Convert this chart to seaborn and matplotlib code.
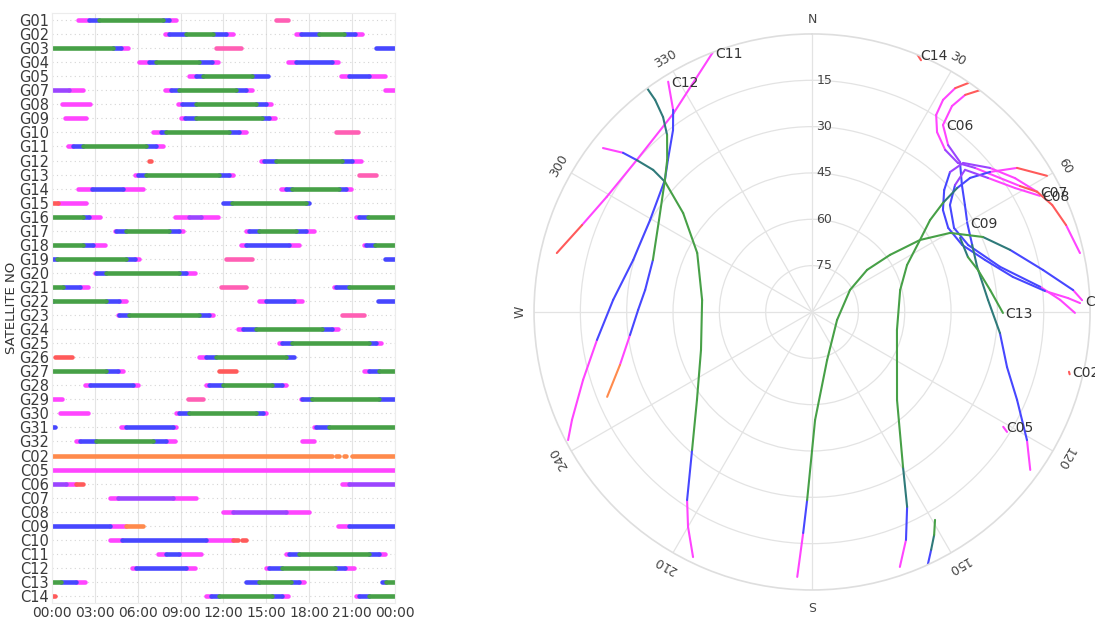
import numpy as np
import pandas as pd
import matplotlib
matplotlib.use("Agg")
import matplotlib.pyplot as plt
import seaborn as sns

# Signal-band colours used by both panels
BAND_COLORS = {
    "r": "#ff5a5a",   # very weak
    "k": "#ff5fb4",   # weak (pink)
    "o": "#ff8a4c",   # weak (orange)
    "m": "#ff45ff",   # low
    "p": "#9b45ff",   # low/medium
    "b": "#4747ff",   # medium
    "d": "#2f7a7a",   # medium/high
    "g": "#47a047",   # high
}

# ---------------- visibility windows: (hour breakpoints, band of each piece)
gps_windows = {
    "G01": [([1.8, 2.6, 3.3, 7.8, 8.2, 8.7], "mbgbm"), ([15.7, 16.5], "k")],
    "G02": [([7.9, 8.2, 9.4, 11.3, 12.2, 12.7], "mbgbm"), ([17.1, 17.4, 18.7, 20.4, 21.2, 21.7], "mbgbm")],
    "G03": [([0.0, 4.3, 4.8, 5.3], "gbm"), ([11.5, 13.2], "k"), ([22.65, 24.0], "b")],
    "G04": [([6.1, 6.8, 7.3, 10.3, 11.2, 11.6], "mbgbm"), ([16.5, 17.1, 19.6, 20.0], "mbm")],
    "G05": [([9.6, 10.1, 10.6, 14.0, 15.1], "mbgb"), ([20.2, 20.8, 22.2, 23.3], "mbm")],
    "G07": [([0.0, 1.2, 2.2], "pm"), ([7.9, 8.3, 8.9, 12.9, 13.6, 14.0], "mbgbm"), ([23.3, 24.0], "m")],
    "G08": [([0.7, 2.65], "m"), ([8.8, 9.1, 10.1, 14.3, 15.0, 15.3], "mbgbm")],
    "G09": [([0.9, 2.4], "m"), ([9.05, 9.3, 10.1, 14.7, 15.2, 15.6], "mbgbm")],
    "G10": [([7.1, 7.6, 8.0, 12.4, 13.1, 13.6], "mbgbm"), ([19.9, 21.4], "k")],
    "G11": [([1.1, 1.5, 2.2, 6.6, 7.3, 7.8], "mbgbm")],
    "G12": [([6.8, 6.95], "r"), ([14.6, 14.8, 15.7, 20.3, 21.0, 21.6], "mbgbm")],
    "G13": [([5.8, 6.0, 6.6, 11.7, 12.4, 12.65], "mbgbm"), ([21.5, 22.65], "k")],
    "G14": [([1.8, 2.8, 5.0, 6.4], "mbm"), ([16.0, 16.4, 16.8, 20.1, 20.6, 20.9], "mbgbm")],
    "G15": [([0.1, 0.4, 2.4], "rm"), ([11.95, 12.6, 17.8, 18.0], "bgb")],
    "G16": [([0.0, 2.2, 2.6, 3.35], "gbm"), ([8.6, 9.6, 10.4, 11.6], "mpm"), ([21.3, 21.5, 22.1, 24.0], "mbg")],
    "G17": [([4.4, 4.5, 5.2, 8.2, 8.9, 9.2], "mbgbm"), ([13.6, 13.8, 14.5, 17.1, 17.8, 18.3], "mbgbm")],
    "G18": [([0.0, 2.2, 2.9, 3.7], "gbm"), ([13.2, 13.6, 16.6, 17.3], "mbm"), ([21.8, 22.0, 22.6, 24.0], "mbg")],
    "G19": [([0.0, 0.35, 5.2, 5.8, 6.1], "bgbm"), ([12.2, 14.0], "k"), ([23.3, 24.0], "b")],
    "G20": [([3.0, 3.1, 3.8, 8.9, 9.4, 10.0], "mbgbm")],
    "G21": [([0.0, 0.8, 1.95, 2.5], "gbm"), ([11.8, 13.6], "k"), ([19.7, 19.9, 20.8, 24.0], "mbg")],
    "G22": [([0.0, 0.1, 3.8, 4.7, 5.2], "bgbm"), ([14.5, 15.0, 16.9, 17.5], "mbm"), ([22.8, 24.0], "b")],
    "G23": [([4.6, 4.7, 5.4, 10.3, 11.0, 11.3], "mbgbm"), ([20.3, 21.8], "k")],
    "G24": [([13.0, 13.4, 14.3, 18.9, 19.6, 20.0], "mbgbm")],
    "G25": [([15.9, 16.1, 16.8, 22.2, 22.65, 23.0], "mbgbm")],
    "G26": [([0.2, 1.4], "r"), ([10.3, 10.8, 11.5, 16.4, 16.9], "mbgb")],
    "G27": [([0.0, 3.8, 4.6, 5.0], "gbm"), ([11.7, 12.9], "r"), ([21.8, 22.2, 22.9, 24.0], "mbg")],
    "G28": [([2.3, 2.65, 5.7, 6.0], "mbm"), ([10.8, 11.0, 11.95, 15.4, 16.1, 16.4], "mbgbm")],
    "G29": [([0.0, 0.7], "m"), ([9.5, 10.6], "k"), ([17.4, 17.5, 18.2, 22.9, 24.0], "mbgb")],
    "G30": [([0.56, 2.5], "m"), ([8.7, 8.9, 9.6, 14.3, 14.75, 15.0], "mbgbm")],
    "G31": [([0.0, 0.2], "b"), ([4.86, 5.2, 8.45, 8.7], "mbm"), ([18.35, 18.5, 19.4, 24.0], "mbg")],
    "G32": [([1.7, 1.95, 3.1, 7.1, 8.0, 8.6], "mbgbm"), ([17.5, 18.35], "m")],
}

bds_windows = {
    "C02": [([0.0, 19.6], "o"), ([19.9, 20.1], "o"), ([20.4, 20.6], "o"), ([21.0, 24.0], "o")],
    "C05": [([0.0, 24.0], "m")],
    "C06": [([0.0, 1.0, 1.7, 2.2], "pmr"), ([20.3, 20.8, 24.0], "mp")],
    "C07": [([4.05, 4.6, 8.5, 10.1], "mpm")],
    "C08": [([11.95, 12.7, 16.4, 18.0], "mpm")],
    "C09": [([0.0, 4.05, 5.2, 6.4], "bmo"), ([20.0, 20.8, 24.0], "mb")],
    "C10": [([4.05, 4.9, 10.8, 12.65, 13.0], "mbmr"), ([13.3, 13.6], "r")],
    "C11": [([7.4, 8.0, 8.9, 10.4], "mbm"), ([16.4, 16.6, 17.3, 22.2, 22.9, 23.3], "mbgbm")],
    "C12": [([5.6, 5.9, 9.4, 10.0], "mbm"), ([15.0, 15.2, 16.1, 19.8, 20.5, 21.1], "mbgbm")],
    "C13": [([0.0, 0.6, 1.7, 2.3], "gbm"), ([13.6, 14.5, 16.7, 17.3, 17.65], "bgbm"), ([23.1, 23.4, 24.0], "bg")],
    "C14": [([0.0, 0.2], "r"), ([10.8, 11.1, 11.7, 15.4, 16.1, 16.5], "mbgbm"), ([21.3, 21.5, 22.2, 24.0], "mbg")],
}

hour_ticks = [0, 3, 6, 9, 12, 15, 18, 21, 24]
hour_labels = ["00:00", "03:00", "06:00", "09:00", "12:00", "15:00", "18:00", "21:00", "00:00"]

# ---------------- sky tracks: azimuth (deg), elevation (deg), band of each piece
c11_az = [339.1, 325.1, 310.9, 299.3, 290.7, 283.0]
c11_el = [0.0, 11.6, 14.9, 13.8, 10.4, 5.2]
c11_band = "mmmmr"

c12_az = [328.0, 325.5, 322.6, 316.5, 311.9, 299.6, 286.2, 273.5, 262.6, 253.5, 245.8, 242.3]
c12_el = [2.1, 10.6, 15.9, 22.2, 26.0, 29.7, 29.7, 25.5, 19.8, 12.7, 4.8, 0.8]
c12_band = "mbbbbbbbmmm"

west1_az = [323.6, 323.5, 322.6, 320.7, 316.4, 311.9, 301.0, 288.1, 277.5, 270.7, 262.8, 254.6, 247.5]
west1_el = [0.0, 4.6, 10.6, 15.9, 22.0, 26.0, 32.2, 35.8, 35.5, 33.7, 30.6, 25.5, 18.2]
west1_band = "dddggggbbbmo"

west2_az = [308.1, 310.1, 310.9, 311.8, 311.5, 307.5, 297.2, 276.2, 251.1, 232.6, 221.0, 213.6, 210.0, 205.9]
west2_el = [4.0, 10.0, 14.9, 21.0, 26.5, 37.4, 48.2, 54.2, 52.0, 43.1, 30.8, 16.9, 9.7, 1.8]
west2_band = "mbddggggggbmm"

c10_az = [87.5, 85.2, 79.7, 72.6, 66.3, 60.2, 56.3, 53.8, 52.6, 59.9, 107.7, 162.6, 178.4, 181.5, 182.3, 183.2]
c10_el = [2.5, 5.2, 14.0, 22.8, 29.6, 38.5, 48.0, 58.7, 67.6, 75.8, 81.5, 73.7, 55.0, 29.1, 18.4, 4.1]
c10_band = "mbbdgggggggggbm"

east1_az = [59.9, 54.9, 51.8, 49.7, 49.5, 50.2, 52.1, 56.3, 63.7, 76.0, 102.0, 136.0, 149.6, 154.0, 157.6, 161.0]
east1_el = [2.1, 8.9, 16.7, 22.9, 28.2, 34.8, 41.6, 48.0, 55.7, 60.6, 61.9, 50.4, 31.8, 19.8, 10.2, 2.7]
east1_band = "rmbbdgggggggdbm"

south_az = [149.4, 151.3, 153.4, 155.4]
south_el = [11.8, 7.7, 3.9, 0.0]
south_band = "gdb"

c13_az = [90.3, 83.0, 75.8, 70.6, 63.4]
c13_el = [28.2, 31.9, 34.6, 36.5, 36.4]
c13_band = "gggd"

c09_az = [59.9, 67.3, 74.7, 86.1, 96.4, 105.8, 113.2, 120.8, 125.9]
c09_el = [32.0, 33.8, 34.6, 32.9, 28.8, 24.4, 17.8, 9.0, 2.8]
c09_band = "bdddbbbm"

north_az = [34.3, 32.6, 31.7, 32.2, 34.8, 39.4, 44.4, 48.5, 54.5, 58.8, 61.9, 65.97, 71.1, 77.6]
north_el = [0.3, 4.0, 9.3, 14.6, 19.1, 22.1, 22.5, 19.6, 15.3, 11.3, 7.4, 4.9, 3.1, 1.2]
north_band = "rmmmmppmmrrrm"

c06_az = [35.0, 34.2, 35.2, 37.1]
c06_el = [16.1, 9.4, 4.0, 0.0]
c06_band = "mmr"

c06b_az = [35.0, 39.2, 44.6, 49.7, 55.0, 59.3]
c06b_el = [16.1, 20.3, 21.8, 26.4, 29.6, 31.7]
c06b_band = "mpbbb"

c07_az = [61.9, 56.6, 51.0, 45.4, 44.6, 47.3, 52.1, 58.3, 65.9, 73.3, 80.1, 84.85, 86.9, 88.1]
c07_el = [7.4, 11.3, 15.9, 21.3, 26.4, 31.8, 36.3, 38.2, 36.8, 31.5, 24.0, 14.3, 7.0, 3.2]
c07_band = "mmppbbbbbbbmm"

c08_az = [63.0, 58.6, 52.7, 47.1, 48.4, 52.2, 59.4, 66.8, 76.5, 83.7, 87.2, 90.2]
c08_el = [7.2, 13.0, 18.4, 22.4, 28.1, 33.5, 36.6, 35.0, 27.4, 15.7, 9.6, 4.9]
c08_band = "mmppbbbbbmm"

c14_az = [22.3, 23.4]
c14_el = [0.0, 1.2]
c14_band = "r"

c02_az = [103.1, 103.6]
c02_el = [4.6, 4.2]
c02_band = "r"

c05_az = [121.0, 121.6]
c05_el = [17.8, 15.9]
c05_band = "m"

sky_tracks = [
    ("C11", c11_az, c11_el, c11_band),
    ("C12", c12_az, c12_el, c12_band),
    (None, west1_az, west1_el, west1_band),
    (None, west2_az, west2_el, west2_band),
    ("C10", c10_az, c10_el, c10_band),
    (None, east1_az, east1_el, east1_band),
    (None, south_az, south_el, south_band),
    ("C13", c13_az, c13_el, c13_band),
    ("C09", c09_az, c09_el, c09_band),
    (None, north_az, north_el, north_band),
    ("C06", c06_az, c06_el, c06_band),
    (None, c06b_az, c06b_el, c06b_band),
    ("C08", c08_az, c08_el, c08_band),
    ("C07", c07_az, c07_el, c07_band),
    ("C14", c14_az, c14_el, c14_band),
    ("C02", c02_az, c02_el, c02_band),
    ("C05", c05_az, c05_el, c05_band),
]

compass_az = [0, 30, 60, 90, 120, 150, 180, 210, 240, 270, 300, 330]
compass_labels = ["N", "30", "60", "E", "120", "150", "S", "210", "240", "W", "300", "330"]
ring_elev = [15, 30, 45, 60, 75]

# ---------------- style
sns.set_theme(style="whitegrid")
plt.rcParams["font.family"] = ["DejaVu Sans"]

fig = plt.figure(figsize=(10.95, 6.23), dpi=100)
ax1 = fig.add_axes([0.0475, 0.0321, 0.3132, 0.9470])
ax2 = fig.add_axes([0.4877, 0.0530, 0.5078, 0.8925], projection="polar")

# ---------------- left panel: visibility timeline
windows = {**gps_windows, **bds_windows}
rows = list(windows)
recs = []
seg = 0
for i, name in enumerate(rows):
    for times, bands in windows[name]:
        for k, band in enumerate(bands):
            for t in (times[k], times[k + 1]):
                recs.append({"seg": seg, "hour": t, "row": i, "band": band})
            seg += 1
timeline = pd.DataFrame(recs)

sns.lineplot(data=timeline, x="hour", y="row", hue="band", units="seg",
             estimator=None, sort=False, palette=BAND_COLORS, linewidth=3.3,
             legend=False, ax=ax1)

ax1.set_facecolor("white")
ax1.set_xlim(0, 24)
ax1.set_ylim(len(rows) - 0.5, -0.5)
ax1.set_xticks(hour_ticks)
ax1.set_xticklabels(hour_labels, fontsize=10, color="#3a3a3a")
ax1.set_yticks(range(len(rows)))
ax1.set_yticklabels(rows, fontsize=10.5, color="#3a3a3a")
ax1.tick_params(axis="both", length=0, pad=2)
ax1.set_xlabel("")
ax1.set_ylabel("SATELLITE NO", fontsize=9.5, color="#333333", labelpad=1)
ax1.grid(axis="x", color="#e4e4e4", linewidth=0.8)
ax1.grid(axis="y", color="#d4d4d4", linewidth=0.8, linestyle=(0, (1, 3)))
ax1.set_axisbelow(True)
for sp in ax1.spines.values():
    sp.set_color("#ececec")
    sp.set_linewidth(0.8)

# ---------------- right panel: sky plot (radius = 90 - elevation)
srecs = []
seg = 0
for label, az, el, bands in sky_tracks:
    for k, band in enumerate(bands):
        for j in (k, k + 1):
            srecs.append({"seg": seg, "theta": np.radians(az[j]),
                          "zen": 90.0 - el[j], "band": band})
        seg += 1
sky = pd.DataFrame(srecs)

ax2.set_theta_zero_location("N")
ax2.set_theta_direction(-1)

sns.lineplot(data=sky, x="theta", y="zen", hue="band", units="seg",
             estimator=None, sort=False, palette=BAND_COLORS, linewidth=1.5,
             legend=False, ax=ax2)

ax2.set_ylim(0, 90)
ax2.set_xticks(np.radians(compass_az))
ax2.set_xticklabels([])
ax2.set_yticks([90 - e for e in ring_elev])
ax2.set_yticklabels([])
ax2.set_xlabel("")
ax2.set_ylabel("")
ax2.set_facecolor("white")
ax2.grid(True, color="#e3e3e3", linewidth=0.9)
ax2.spines["polar"].set_color("#dedede")
ax2.spines["polar"].set_linewidth(1.2)

for az, lab in zip(compass_az, compass_labels):
    ax2.text(np.radians(az), 94.6, lab, rotation=(-az) % 360, rotation_mode="anchor",
             ha="center", va="center", fontsize=9, color="#444444", clip_on=False)

for e in ring_elev:
    ax2.annotate(str(e), xy=(0, 90 - e), xytext=(3, 0), textcoords="offset points",
                 ha="left", va="center", fontsize=9, color="#444444")

for label, az, el, bands in sky_tracks:
    if label is None:
        continue
    ax2.annotate(label, xy=(np.radians(az[0]), 90 - el[0]), xytext=(2, -1),
                 textcoords="offset points", ha="left", va="center",
                 fontsize=10, color="#333333", annotation_clip=False)

fig.savefig("out.png", dpi=100)
